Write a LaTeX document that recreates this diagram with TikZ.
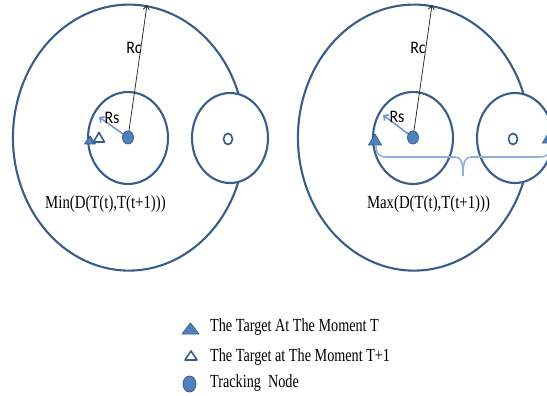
\documentclass[tikz,border=0pt]{standalone}
\usepackage{fontspec}
\setmainfont{Liberation Serif}
\newfontfamily\calib{Carlito}
\usepackage{graphicx}
\usetikzlibrary{arrows.meta,shapes.geometric}
\definecolor{dblue}{HTML}{385D8A}
\definecolor{fblue}{HTML}{4F81BD}
\definecolor{lblue}{HTML}{6F97CD}
\definecolor{bblue}{HTML}{8DB0DD}
\newcommand{\stx}[2]{\scalebox{1}[#1]{#2}}
\begin{document}
\begin{tikzpicture}[x=1pt,y=-1pt,
  outl/.style={draw=dblue,line width=2.1pt},
  circ/.style={outl,ellipse,inner sep=0pt,minimum width=#1},
  trk/.style={draw=dblue,fill=fblue,line width=0.8pt,ellipse,inner sep=0pt},
  ftri/.style={draw=dblue,fill=fblue,line width=0.8pt,line join=round},
  otri/.style={draw=dblue,fill=white,line width=1.6pt,line join=round},
  rcline/.style={draw=black!85,line width=0.75pt,-{Straight Barb[length=4pt,width=6pt]}},
  rsline/.style={draw=lblue,line width=1.6pt,-{Straight Barb[length=3.5pt,width=7pt]}},
  lbl/.style={font=\calib\fontsize{16}{18}\selectfont,inner sep=0pt},
  brc/.style={draw=bblue,line width=1.6pt},
  leg/.style={anchor=base west,inner sep=0pt},
]
\useasboundingbox (0,0) rectangle (547,396);
\clip (0,0) rectangle (547,396);

% ---------- left figure ----------
\draw[outl] (238.3,182.0) arc[start angle=19.5,end angle=340.5,x radius=116,y radius=133];
\node[circ=80,minimum height=92] (s1) at (128,138) {};
\node[circ=76,minimum height=90] (m1) at (230,138) {};
\node[draw=dblue,line width=1.6pt,ellipse,inner sep=0pt,minimum width=9,minimum height=11] (o1) at (228,139) {};
\coordinate (c1) at (128,137.5);
\coordinate (rc1) at (147,5);
\coordinate (rs1) at (99,117);
\draw[rcline] (c1) -- (rc1);
\draw[rsline] (c1) -- (rs1);
\node[trk,minimum width=11,minimum height=13] (n1) at (c1) {};
\node[lbl] (lrc1) at (134,48) {\stx{1.1}{Rc}};
\node[lbl] (lrs1) at (112,118) {\stx{1.1}{Rs}};
\fill[ftri] (84.5,144) -- (90,136) -- (95.5,144) -- cycle;
\draw[otri] (93.5,142) -- (99,132.5) -- (104.5,142) -- cycle;
\node[inner sep=0pt,anchor=base] (t1) at (105.5,208)
  {\stx{1.25}{\fontsize{14.8}{16}\selectfont Min(D(T(t),T(t+1)))}};

% ---------- right figure ----------
\draw[outl] (523.3,182.0) arc[start angle=19.5,end angle=340.5,x radius=116,y radius=133];
\node[circ=80,minimum height=92] (s2) at (413,138) {};
\node[circ=76,minimum height=90] (m2) at (515,138) {};
\node[draw=dblue,line width=1.6pt,ellipse,inner sep=0pt,minimum width=9,minimum height=11] (o2) at (513,139) {};
\coordinate (b0) at (376,146);
\coordinate (bt) at (463,176);
\coordinate (b1) at (550,146);
\draw[brc] (b0) .. controls (376,154) and (379,157) .. (387,157) -- (455,157)
  .. controls (461,157) and (463,162) .. (bt)
  .. controls (463,162) and (465,157) .. (471,157) -- (539,157)
  .. controls (547,157) and (550,154) .. (b1);
\coordinate (c2) at (413,137.5);
\coordinate (rc2) at (432,5);
\coordinate (rs2) at (383,115);
\draw[rcline] (c2) -- (rc2);
\draw[rsline] (c2) -- (rs2);
\node[trk,minimum width=11,minimum height=13] (n2) at (c2) {};
\node[lbl] (lrc2) at (418,48) {\stx{1.1}{Rc}};
\node[lbl] (lrs2) at (397,117) {\stx{1.1}{Rs}};
\fill[ftri] (368.5,145) -- (375,134) -- (381.5,145) -- cycle;
\fill[ftri] (542.5,143) -- (549,132) -- (555.5,143) -- cycle;
\node[inner sep=0pt,anchor=base] (t2) at (428.5,208)
  {\stx{1.25}{\fontsize{14.8}{16}\selectfont Max(D(T(t),T(t+1)))}};

% ---------- legend ----------
\fill[ftri] (182,334) -- (190.5,323) -- (199,334) -- cycle;
\draw[otri] (185,360) -- (191,351) -- (197,360) -- cycle;
\node[trk,minimum width=13,minimum height=16] (lg3) at (189.5,384) {};
\node[leg] (lt1) at (210,331) {\stx{1.3}{\fontsize{14.2}{16}\selectfont The Target At The Moment T}};
\node[leg] (lt2) at (210,361) {\stx{1.3}{\fontsize{14.2}{16}\selectfont The Target at The Moment T+1}};
\node[leg] (lt3) at (210,387) {\stx{1.3}{\fontsize{14.2}{16}\selectfont Tracking\ \ Node}};
\end{tikzpicture}
\end{document}
